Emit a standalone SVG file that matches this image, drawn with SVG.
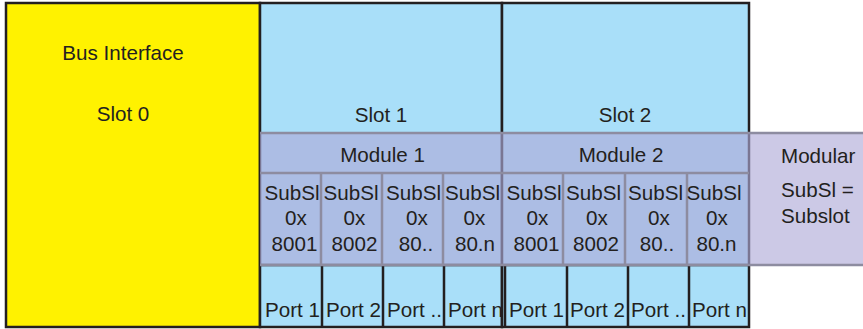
<svg xmlns="http://www.w3.org/2000/svg" width="863" height="329" viewBox="0 0 863 329">
<style>
text{font-family:"Liberation Sans",Arial,sans-serif;font-size:20.6px;fill:#231f20}
.c{text-anchor:middle}
.blk{fill:none;stroke:#231f20;stroke-width:2.5}
.gr{stroke:#8d8ca0;stroke-width:2.5;fill:none}
.blue{fill:#a9dff9}
</style>
<rect x="0" y="0" width="863" height="329" fill="#ffffff"/>
<g id="slot0">
<rect x="6" y="3" width="254" height="324" fill="#fff200" stroke="#231f20" stroke-width="2.5"/>
<text class="c" x="123" y="60">Bus Interface</text>
<text class="c" x="123" y="121">Slot 0</text>
</g>
<g id="slot1">
<rect class="blue" x="260" y="3" width="242" height="324"/>
<rect class="blk" x="260" y="3" width="242" height="324"/>
<text class="c" x="381" y="121.5">Slot 1</text>
</g>
<g id="slot2">
<rect class="blue" x="502" y="3" width="247" height="324"/>
<rect class="blk" x="502" y="3" width="247" height="324"/>
<text class="c" x="625" y="121.5">Slot 2</text>
</g>
<g id="ports">
<path class="blk" d="M260 265H749M322 265V327M383 265V327M444 265V327M505 265V327M567 265V327M628 265V327M689 265V327"/>
<text x="265" y="317">Port 1</text>
<text x="326" y="317">Port 2</text>
<text x="387" y="317">Port ..</text>
<text x="448" y="317">Port n</text>
<text x="509" y="317">Port 1</text>
<text x="570" y="317">Port 2</text>
<text x="631" y="317">Port ..</text>
<text x="692" y="317">Port n</text>
</g>
<g id="module-band">
<rect x="260" y="133" width="604" height="132" fill="rgb(175,170,215)" fill-opacity="0.63"/>
<path class="gr" d="M260 133H863M260 265H863M260 173H749M321 173V265M382 173V265M443 173V265M563 173V265M625 173V265M687 173V265"/>
</g>
<g id="module1">
<text class="c" x="382.5" y="162">Module 1</text>
<text class="c" x="292" y="199.5">SubSl</text><text class="c" x="296" y="225">0x</text><text class="c" x="294.5" y="251">8001</text>
<text class="c" x="351" y="199.5">SubSl</text><text class="c" x="354.5" y="225">0x</text><text class="c" x="354.5" y="251">8002</text>
<text class="c" x="413.5" y="199.5">SubSl</text><text class="c" x="417" y="225">0x</text><text class="c" x="416" y="251">80..</text>
<text class="c" x="472.5" y="199.5">SubSl</text><text class="c" x="474.5" y="225">0x</text><text class="c" x="475" y="251">80.n</text>
</g>
<g id="module2">
<text class="c" x="621" y="162">Module 2</text>
<text class="c" x="534" y="199.5">SubSl</text><text class="c" x="537.5" y="225">0x</text><text class="c" x="536.5" y="251">8001</text>
<text class="c" x="593.5" y="199.5">SubSl</text><text class="c" x="597" y="225">0x</text><text class="c" x="596" y="251">8002</text>
<text class="c" x="655.5" y="199.5">SubSl</text><text class="c" x="659" y="225">0x</text><text class="c" x="657" y="251">80..</text>
<text class="c" x="714" y="199.5">SubSl</text><text class="c" x="717" y="225">0x</text><text class="c" x="716.5" y="251">80.n</text>
</g>
<g id="legend">
<text x="781" y="162.5">Modular</text>
<text x="781" y="197">SubSl =</text>
<text x="781" y="223">Subslot</text>
</g>
</svg>
